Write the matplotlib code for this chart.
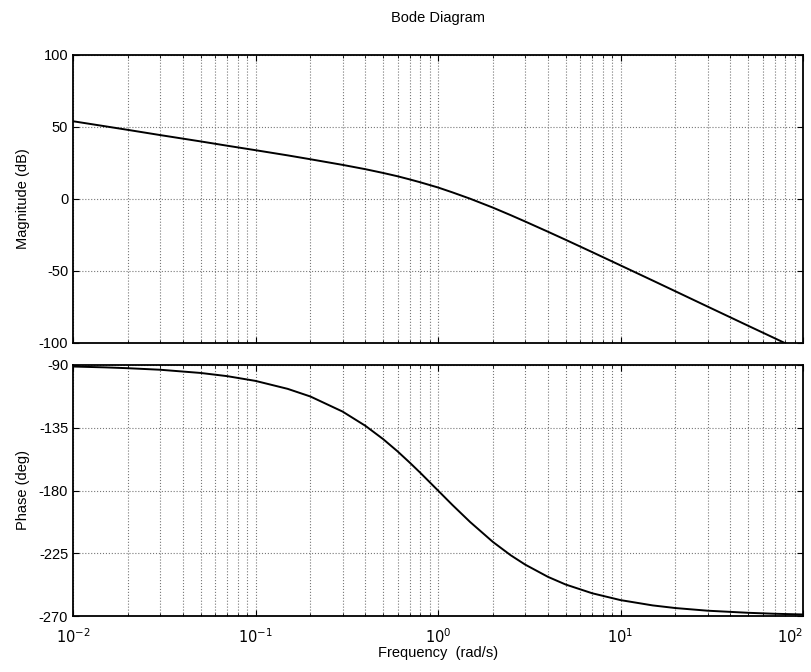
import matplotlib
matplotlib.use("Agg")
import matplotlib.pyplot as plt

plt.rcParams['font.family'] = ['Liberation Sans', 'DejaVu Sans']
plt.rcParams['axes.unicode_minus'] = False

# Values
freq = [0.01, 0.015, 0.02, 0.03, 0.05, 0.07, 0.1, 0.15, 0.2, 0.3, 0.4,
        0.5, 0.6, 0.7, 0.8, 1.0, 1.2, 1.5, 2.0, 2.5, 3.0, 4.0, 5.0, 7.0,
        10.0, 15.0, 20.0, 30.0, 50.0, 70.0, 100.0]
magnitude = [54.0, 50.5, 48.0, 44.4, 40.0, 37.0, 33.9, 30.3, 27.6, 23.7,
             20.7, 18.1, 15.8, 13.6, 11.6, 8.0, 4.6, 0.2, -6.0, -11.2,
             -15.6, -22.7, -28.3, -36.9, -46.1, -56.6, -64.1, -74.7,
             -88.0, -96.7, -106.0]
phase = [-91.1, -91.7, -92.3, -93.4, -95.7, -98.0, -101.4, -107.1, -112.6,
         -123.4, -133.6, -143.1, -151.9, -160.0, -167.3, -180.0, -190.4,
         -202.6, -216.9, -226.4, -233.1, -241.9, -247.4, -253.7, -258.6,
         -262.4, -264.3, -266.2, -267.7, -268.4, -268.9]

mag_ticks = [100, 50, 0, -50, -100]
phase_ticks = [-90, -135, -180, -225, -270]
freq_ticks = [0.01, 0.1, 1, 10, 100]
freq_labels = ['$10^{-2}$', '$10^{-1}$', '$10^{0}$', '$10^{1}$', '$10^{2}$']

W, H = 811, 672
fig = plt.figure(figsize=(W / 100, H / 100), dpi=100)
ax_mag = fig.add_axes([73 / W, 1 - 343 / H, 730 / W, 288 / H])
ax_ph = fig.add_axes([73 / W, 1 - 616 / H, 730 / W, 251 / H])

for ax, y, ticks in [(ax_mag, magnitude, mag_ticks), (ax_ph, phase, phase_ticks)]:
    ax.semilogx(freq, y, color='black', lw=1.4)
    ax.set_xlim(0.01, 100)
    ax.set_ylim(min(ticks), max(ticks))
    ax.set_yticks(ticks)
    ax.set_xticks(freq_ticks, freq_labels)
    ax.grid(True, which='major', linestyle=':', color='#777777', lw=0.8)
    ax.grid(True, which='minor', axis='x', linestyle=':', color='#777777', lw=0.8)
    ax.tick_params(which='both', direction='in', top=True, right=True,
                   labelsize=10.5, length=4)
    ax.tick_params(which='minor', length=2)
    ax.tick_params(axis='x', which='major', pad=8)
    for s in ax.spines.values():
        s.set_linewidth(1.3)

ax_mag.tick_params(labelbottom=False)
ax_mag.set_ylabel('Magnitude (dB)', fontsize=10.5, labelpad=6)
ax_ph.set_ylabel('Phase (deg)', fontsize=10.5, labelpad=6)
ax_ph.set_xlabel('Frequency  (rad/s)', fontsize=10.5, labelpad=0)
ax_mag.set_title('Bode Diagram', fontsize=10.5, pad=24)

# keep the last decade label inside the canvas
ax_ph.get_xticklabels()[-1].set_horizontalalignment('right')

fig.savefig('out.png', dpi=100)
